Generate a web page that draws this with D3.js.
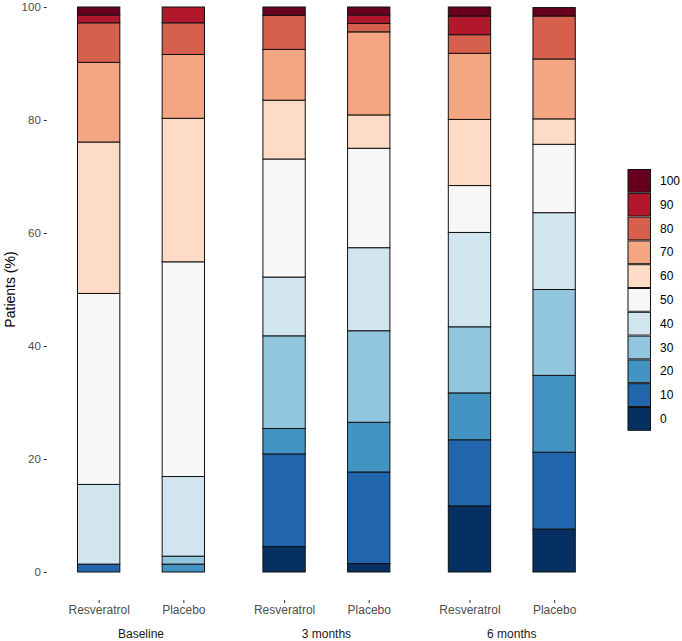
<!DOCTYPE html>
<html>
<head>
<meta charset="utf-8">
<script src="https://cdn.jsdelivr.net/npm/d3@7"></script>
<style>
  html, body { margin: 0; padding: 0; background: #fff; }
  svg { display: block; font-family: "Liberation Sans", Arial, Helvetica, sans-serif; }
</style>
</head>
<body>
<svg id="chart" width="682" height="641"></svg>
<script>
// ---- Data ----
const timepoints = ["Baseline", "3 months", "6 months"];
const treatments = ["Resveratrol", "Placebo"];
const levels = ["0", "10", "20", "30", "40", "50", "60", "70", "80", "90", "100"];
const yTicks = [0, 20, 40, 60, 80, 100];
const levelColors = ["#053061", "#2166ac", "#4393c3", "#92c5de", "#d1e5f0", "#f7f7f7",
                     "#fddbc7", "#f4a582", "#d6604d", "#b2182b", "#67001f"];

// percentages per score level 0..100 (bottom to top)
const baselineResveratrol = [0, 1.4, 0, 0, 14.1, 33.8, 26.8, 14.1, 7.0, 1.4, 1.4];
const baselinePlacebo     = [0, 0, 1.4, 1.4, 14.1, 38.0, 25.4, 11.3, 5.6, 2.8, 0];
const m3Resveratrol       = [4.5, 16.4, 4.5, 16.4, 10.4, 20.9, 10.4, 9.0, 6.0, 0, 1.5];
const m3Placebo           = [1.5, 16.2, 8.8, 16.2, 14.7, 17.6, 5.9, 14.7, 1.5, 1.5, 1.5];
const m6Resveratrol       = [11.7, 11.7, 8.3, 11.7, 16.7, 8.3, 11.7, 11.7, 3.3, 3.3, 1.7];
const m6Placebo           = [7.6, 13.6, 13.6, 15.2, 13.6, 12.1, 4.5, 10.6, 7.6, 0, 1.5];

const series = [
  { time: "Baseline", treat: "Resveratrol", values: baselineResveratrol },
  { time: "Baseline", treat: "Placebo", values: baselinePlacebo },
  { time: "3 months", treat: "Resveratrol", values: m3Resveratrol },
  { time: "3 months", treat: "Placebo", values: m3Placebo },
  { time: "6 months", treat: "Resveratrol", values: m6Resveratrol },
  { time: "6 months", treat: "Placebo", values: m6Placebo }
];

// ---- Layout ----
const svg = d3.select("#chart");
const panelLeft = 48.3, panelRight = 604.5;
const yTop = 7, yBottom = 572;

const xOuter = d3.scaleBand().domain(timepoints).range([panelLeft, panelRight]).paddingInner(0).paddingOuter(0);
const xInner = d3.scaleBand().domain(treatments).range([0, xOuter.bandwidth()])
  .paddingInner(0.5).paddingOuter(0.345).align(0.5);
const y = d3.scaleLinear().domain([0, 100]).range([yBottom, yTop]);
const color = d3.scaleOrdinal().domain(levels).range(levelColors);

// ---- Bars ----
const bars = svg.append("g");
series.forEach(s => {
  let cum = 0;
  const x0 = xOuter(s.time) + xInner(s.treat);
  const w = xInner.bandwidth();
  s.values.forEach((v, i) => {
    if (v <= 0) return;
    const y0 = cum, y1 = cum + v;
    cum = y1;
    bars.append("rect")
      .attr("x", x0)
      .attr("y", y(Math.min(y1, 100)))
      .attr("width", w)
      .attr("height", y(y0) - y(Math.min(y1, 100)))
      .attr("fill", color(levels[i]))
      .attr("stroke", "#111")
      .attr("stroke-width", 1);
  });
});

// ---- Y axis ----
const yAxis = d3.axisLeft(y).tickValues(yTicks).tickSize(3).tickPadding(3);
const gy = svg.append("g").attr("transform", `translate(${panelLeft - 1.5},0)`).call(yAxis);
gy.select(".domain").remove();
gy.selectAll(".tick line").attr("stroke", "#333").attr("stroke-width", 1);
gy.selectAll(".tick text").attr("fill", "#4d4d4d").style("font-size", "11.5px");

svg.append("text")
  .attr("transform", `translate(15,${(yTop + yBottom) / 2}) rotate(-90)`)
  .attr("text-anchor", "middle")
  .attr("fill", "#000")
  .style("font-size", "14px")
  .text("Patients (%)");

// ---- X axis (per panel) ----
timepoints.forEach(t => {
  const xs = d3.scaleOrdinal().domain(treatments)
    .range(treatments.map(tr => xOuter(t) + xInner(tr) + xInner.bandwidth() / 2));
  const g = svg.append("g").attr("transform", "translate(0,600)");
  const ax = d3.axisBottom(d3.scalePoint().domain(treatments)
      .range([xs("Resveratrol"), xs("Placebo")]))
    .tickSize(3).tickPadding(2);
  g.call(ax);
  g.select(".domain").remove();
  g.selectAll(".tick line").attr("stroke", "#333");
  g.selectAll(".tick text").attr("fill", "#4d4d4d").style("font-size", "12px");

  svg.append("text")
    .attr("x", xOuter(t) + xOuter.bandwidth() / 2)
    .attr("y", 638)
    .attr("text-anchor", "middle")
    .attr("fill", "#1a1a1a")
    .style("font-size", "12px")
    .text(t);
});

// ---- Legend ----
const legend = svg.append("g").attr("transform", "translate(627.5,169)");
const keyStep = 23.8;
levels.slice().reverse().forEach((lv, i) => {
  const g = legend.append("g").attr("transform", `translate(0,${i * keyStep})`);
  g.append("rect").attr("width", 23.5).attr("height", keyStep).attr("fill", "#f2f2f2");
  g.append("rect").attr("x", 0.5).attr("y", 0.5).attr("width", 22.5).attr("height", keyStep - 1)
    .attr("fill", color(lv)).attr("stroke", "#111").attr("stroke-width", 1);
  g.append("text").attr("x", 32.5).attr("y", keyStep / 2).attr("dy", "0.35em")
    .attr("fill", "#000").style("font-size", "12px").text(lv);
});
</script>
</body>
</html>
